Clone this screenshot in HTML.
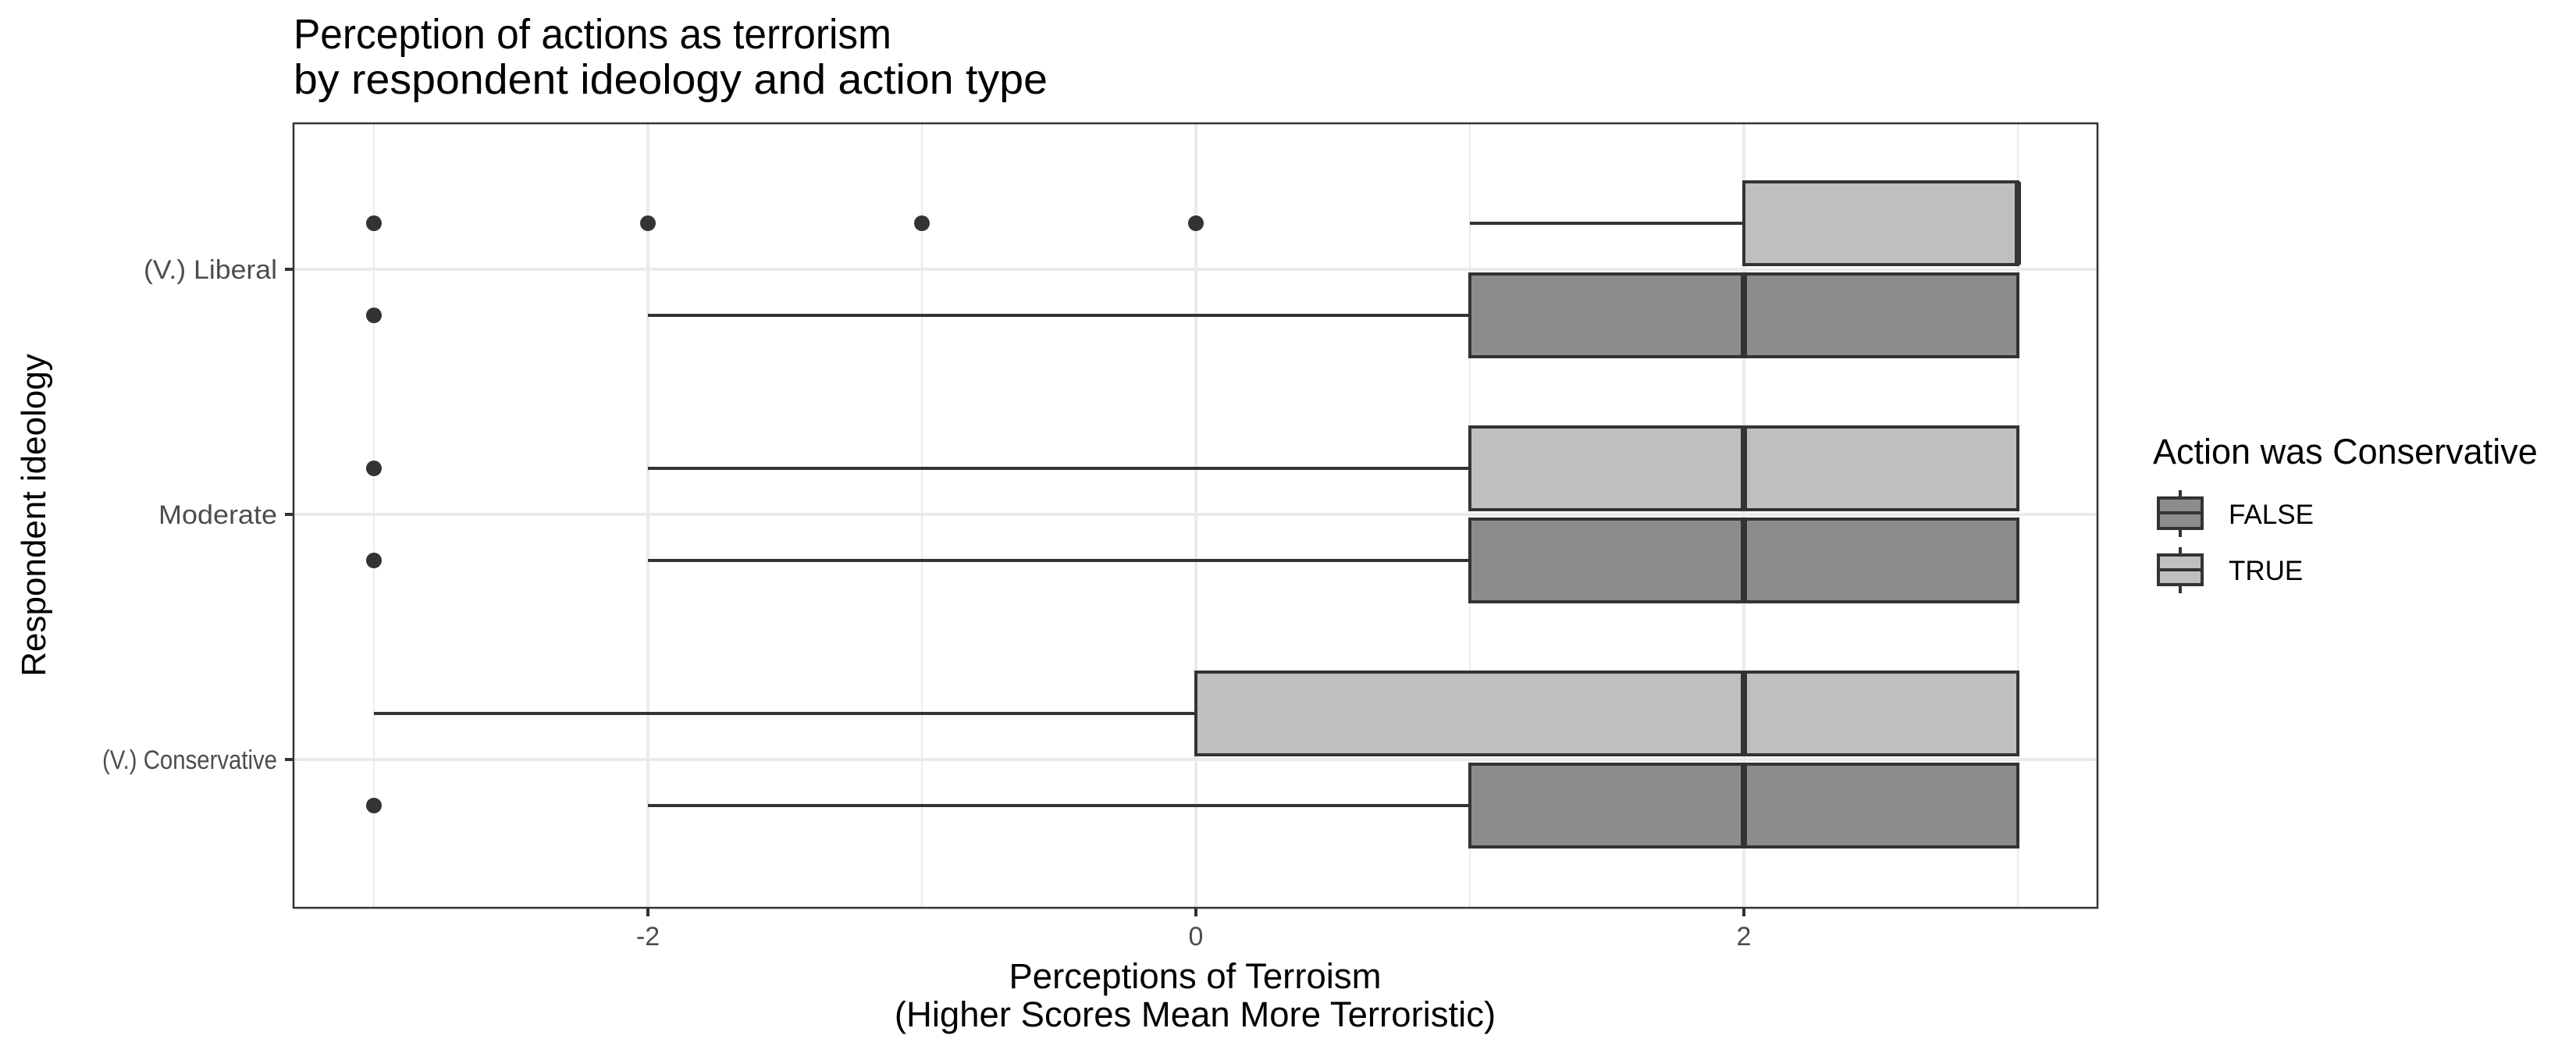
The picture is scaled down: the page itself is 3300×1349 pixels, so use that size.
<!DOCTYPE html>
<html><head><meta charset="utf-8"><style>
html,body{margin:0;padding:0;background:#fff;}
svg{display:block;font-family:"Liberation Sans",Arial,sans-serif;}
</style></head><body>
<svg id="chart" width="3300" height="1349" viewBox="0 0 3300 1349">
<rect x="0" y="0" width="3300" height="1349" fill="#fff"/>
<text x="376" y="62" font-size="54" fill="#000" textLength="766" lengthAdjust="spacingAndGlyphs">Perception of actions as terrorism</text>
<text x="376" y="120" font-size="54" fill="#000" textLength="966" lengthAdjust="spacingAndGlyphs">by respondent ideology and action type</text>
<g id="grid"></g>
<g id="marks"></g>
<rect x="376" y="158" width="2311" height="1005" fill="none" stroke="#333" stroke-width="2.5"/>
<g id="axes"></g>
<text x="1531" y="1266" font-size="45.5" text-anchor="middle" fill="#000">Perceptions of Terroism</text>
<text x="1531" y="1315" font-size="45.5" text-anchor="middle" fill="#000">(Higher Scores Mean More Terroristic)</text>
<text transform="translate(58,660) rotate(-90)" font-size="44" text-anchor="middle" fill="#000">Respondent ideology</text>
<g>
<text x="2758" y="594" font-size="45" fill="#000">Action was Conservative</text>
<g>
<line x1="2793" y1="628" x2="2793" y2="688" stroke="#333" stroke-width="4"/>
<rect x="2765" y="638" width="56" height="39" fill="#8c8c8c" stroke="#333" stroke-width="4"/>
<line x1="2765" y1="657" x2="2821" y2="657" stroke="#333" stroke-width="4"/>
<text x="2855" y="671" font-size="35" fill="#000">FALSE</text>
</g>
<g>
<line x1="2793" y1="701" x2="2793" y2="760" stroke="#333" stroke-width="4"/>
<rect x="2765" y="711" width="56" height="38" fill="#bfbfbf" stroke="#333" stroke-width="4"/>
<line x1="2765" y1="730" x2="2821" y2="730" stroke="#333" stroke-width="4"/>
<text x="2855" y="743" font-size="35" fill="#000">TRUE</text>
</g>
</g>
</svg>
<script>
const categories = ["(V.) Liberal", "Moderate", "(V.) Conservative"];
const groups = ["FALSE", "TRUE"];
// per category, per group: [lowerWhisker, q1, median, q3, upperWhisker]
const statsFalse = [[-2, 1, 2, 3, 3], [-2, 1, 2, 3, 3], [-2, 1, 2, 3, 3]];
const statsTrue = [[1, 2, 3, 3, 3], [-2, 1, 2, 3, 3], [-3, 0, 2, 3, 3]];
const outliersFalse = [[-3], [-3], [-3]];
const outliersTrue = [[-3, -2, -1, 0], [-3], []];
const xMajorTicks = [-2, 0, 2];
const xMinorTicks = [-3, -1, 1, 3];
const xTickLabels = ["-2", "0", "2"];
const yLabelWidths = [171, 152, 224];

const NS = "http://www.w3.org/2000/svg";
function xs(v){ return 1532 + 351 * v; }
function ys(i){ return 345 + 314 * i; }
function mk(parent, tag, attrs){
  const e = document.createElementNS(NS, tag);
  for (const k in attrs) e.setAttribute(k, attrs[k]);
  parent.appendChild(e);
  return e;
}
const grid = document.getElementById("grid");
const marks = document.getElementById("marks");
const axes = document.getElementById("axes");

xMinorTicks.forEach(function(v){
  const l = mk(grid, "line", {x1: xs(v), x2: xs(v), y1: 158, y2: 1163, stroke: "#ebebeb", "stroke-width": 2});
  
  
});
xMajorTicks.forEach(function(v, i){
  const l = mk(grid, "line", {x1: xs(v), x2: xs(v), y1: 158, y2: 1163, stroke: "#ebebeb", "stroke-width": 4});
  
  
  const t = mk(axes, "line", {x1: xs(v), x2: xs(v), y1: 1163, y2: 1174, stroke: "#333", "stroke-width": 4});
  
  
  const tx = mk(axes, "text", {x: xs(v), y: 1211, "font-size": 34, "text-anchor": "middle", fill: "#4d4d4d"});
  tx.textContent = xTickLabels[i];
  
  
});
categories.forEach(function(c, i){
  const l = mk(grid, "line", {x1: 376, x2: 2687, y1: ys(i), y2: ys(i), stroke: "#ebebeb", "stroke-width": 4});
  
  
  const t = mk(axes, "line", {x1: 365, x2: 376, y1: ys(i), y2: ys(i), stroke: "#333", "stroke-width": 4});
  
  
  const tx = mk(axes, "text", {x: 355 - yLabelWidths[i], y: ys(i) + 12, "font-size": 34, fill: "#4d4d4d", textLength: yLabelWidths[i], lengthAdjust: "spacingAndGlyphs"});
  tx.textContent = c;
  
  
});

function drawBox(s, outs, cy, fill, name){
  const h = 106;
  const g = mk(marks, "g", {});
  
  
  mk(g, "line", {x1: xs(s[0]), x2: xs(s[1]), y1: cy, y2: cy, stroke: "#333", "stroke-width": 4});
  mk(g, "line", {x1: xs(s[3]), x2: xs(s[4]), y1: cy, y2: cy, stroke: "#333", "stroke-width": 4});
  mk(g, "rect", {x: xs(s[1]), y: cy - h/2, width: xs(s[3]) - xs(s[1]), height: h, fill: fill, stroke: "#333", "stroke-width": 4});
  mk(g, "line", {x1: xs(s[2]), x2: xs(s[2]), y1: cy - h/2, y2: cy + h/2, stroke: "#333", "stroke-width": 8});
  outs.forEach(function(o){
    const c = mk(g, "circle", {cx: xs(o), cy: cy, r: 10, fill: "#333"});
    
    
  });
}
categories.forEach(function(c, i){
  drawBox(statsTrue[i], outliersTrue[i], ys(i) - 59, "#bfbfbf", "box-true-" + i);
  drawBox(statsFalse[i], outliersFalse[i], ys(i) + 59, "#8c8c8c", "box-false-" + i);
});
</script>
</body></html>
